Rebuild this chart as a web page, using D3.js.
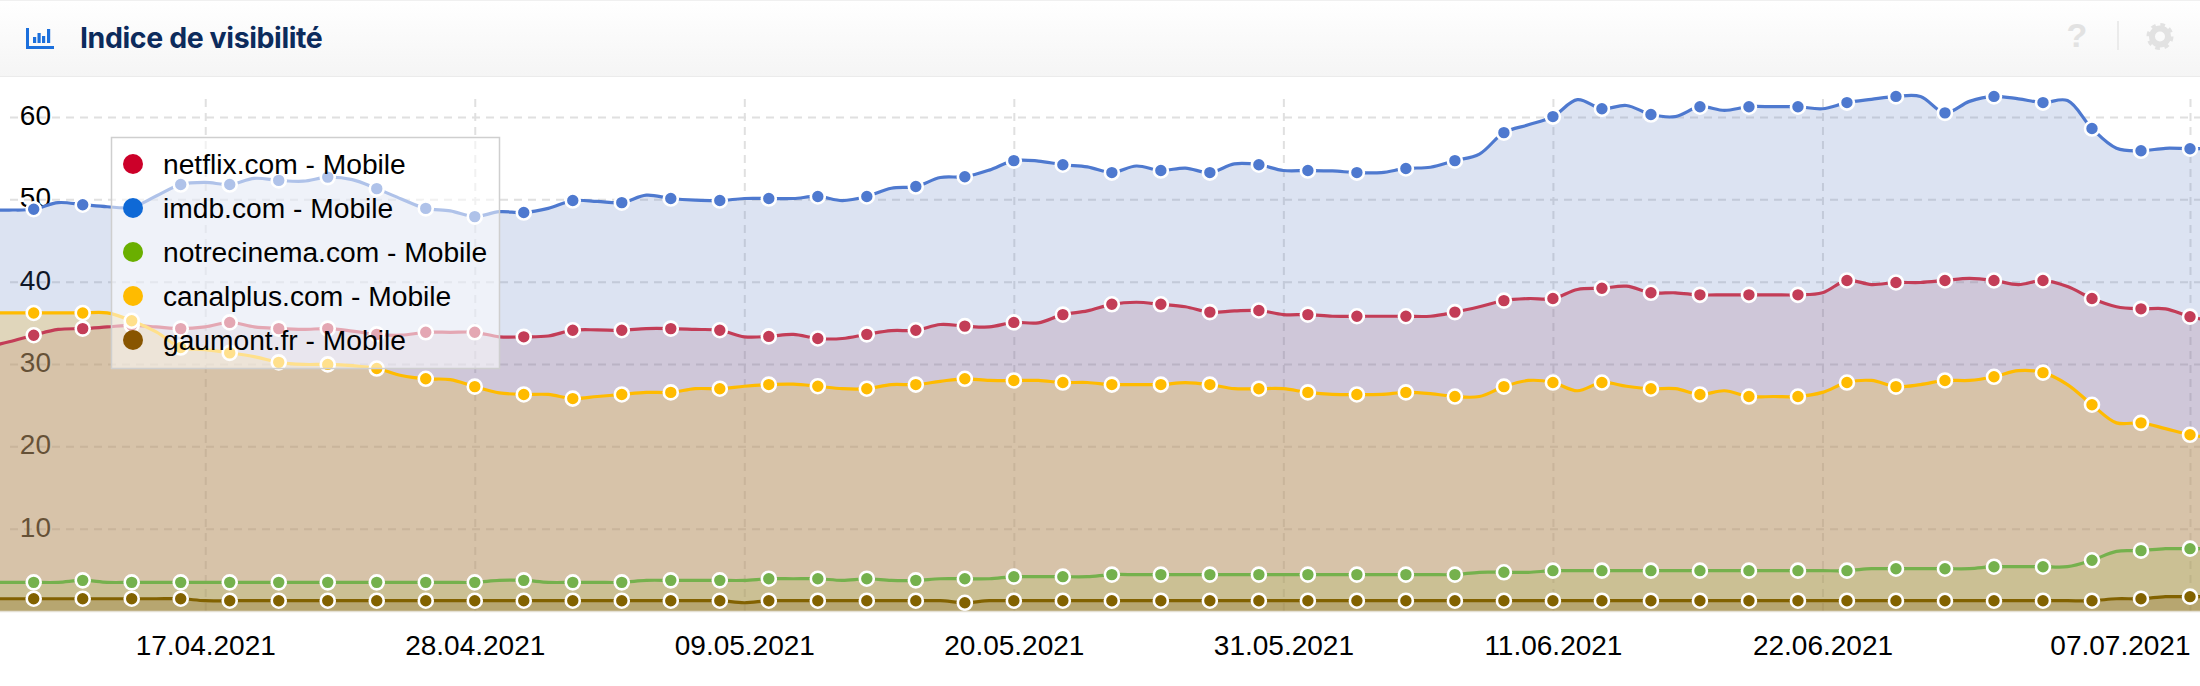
<!DOCTYPE html>
<html>
<head>
<meta charset="utf-8">
<script src="https://cdn.jsdelivr.net/npm/d3@7"></script>
<style>
	html, body { margin: 0; padding: 0; background: #fff; }
	svg { display: block; }
	text { font-family: "Liberation Sans", Arial, sans-serif; }
</style>
</head>
<body>
<script>
// Daily values, first one is 08.04.2021, last one 08.07.2021 (both just outside the plot)
const imdb = [48.7,48.7,48.8,49.6,49.35,49.1,49.05,50.4,51.8,52.05,51.8,52.55,52.3,52.2,52.7,52.4,51.3,50.05,48.9,48.6,47.9,48.5,48.4,48.9,49.85,49.75,49.6,50.5,50.1,49.9,49.85,50.1,50.1,50.1,50.35,49.85,50.35,51.35,51.55,52.65,52.75,53.55,54.7,54.65,54.2,53.95,53.25,54.05,53.5,53.8,53.25,54.3,54.2,53.5,53.5,53.45,53.25,53.25,53.75,53.9,54.7,55.5,58.1,59.05,60.05,62.1,61.0,61.4,60.3,60.05,61.25,60.8,61.25,61.25,61.25,61.0,61.75,62.15,62.5,62.5,60.5,61.9,62.5,62.2,61.75,62.0,58.6,56.2,55.9,56.2,56.15,56.2];
const netflix = [32.0,32.7,33.5,34.2,34.3,34.5,34.7,34.5,34.3,34.5,35.05,34.5,34.3,34.2,34.3,34.0,33.6,33.5,33.85,33.85,33.85,33.3,33.3,33.4,34.1,34.15,34.1,34.3,34.3,34.2,34.1,33.3,33.35,33.6,33.1,33.1,33.6,34.05,34.1,34.8,34.6,34.5,35.05,35.0,36.0,36.45,37.25,37.5,37.25,36.95,36.3,36.45,36.5,36.0,36.0,35.8,35.8,35.8,35.8,35.8,36.3,36.95,37.7,37.95,37.95,39.05,39.2,39.45,38.65,38.65,38.4,38.4,38.4,38.4,38.4,38.65,40.15,39.65,39.9,39.9,40.15,40.4,40.15,39.65,40.15,39.4,37.95,36.95,36.7,36.7,35.75,35.2];
const canalplus = [36.2,36.2,36.2,36.2,36.2,36.2,35.25,33.9,32.0,31.75,31.35,30.9,30.2,29.95,29.95,29.8,29.45,28.6,28.2,28.1,27.25,26.5,26.3,26.3,25.8,26.05,26.3,26.55,26.55,27.0,27.0,27.3,27.5,27.55,27.3,27.0,27.0,27.5,27.5,27.9,28.2,28.0,28.0,28.0,27.75,27.75,27.5,27.5,27.5,27.75,27.5,27.0,27.0,27.0,26.55,26.3,26.3,26.3,26.55,26.4,26.05,26.05,27.25,28.0,27.75,26.75,27.75,27.3,27.0,27.0,26.3,26.75,26.05,26.05,26.05,26.55,27.75,28.0,27.25,27.5,28.0,28.0,28.45,29.2,28.95,27.5,25.05,22.85,22.85,22.15,21.4,21.0];
const notrecinema = [3.48,3.48,3.48,3.48,3.72,3.48,3.48,3.48,3.48,3.48,3.48,3.48,3.48,3.48,3.48,3.48,3.48,3.48,3.48,3.48,3.48,3.72,3.72,3.48,3.48,3.48,3.48,3.72,3.72,3.72,3.72,3.72,3.92,3.92,3.92,3.72,3.92,3.72,3.72,3.92,3.92,3.92,4.17,4.17,4.17,4.17,4.42,4.42,4.42,4.42,4.42,4.42,4.42,4.42,4.42,4.42,4.42,4.42,4.42,4.42,4.42,4.7,4.7,4.7,4.9,4.9,4.9,4.9,4.9,4.9,4.9,4.9,4.9,4.9,4.9,4.9,4.9,5.14,5.14,5.14,5.14,5.14,5.38,5.38,5.38,5.38,6.16,7.25,7.33,7.57,7.57,7.57];
const gaumont = [1.49,1.49,1.49,1.49,1.49,1.49,1.49,1.49,1.49,1.25,1.25,1.25,1.25,1.25,1.25,1.25,1.25,1.25,1.25,1.25,1.25,1.25,1.25,1.25,1.25,1.25,1.25,1.25,1.25,1.25,1.25,1.0,1.25,1.25,1.25,1.25,1.25,1.25,1.25,1.25,1.0,1.25,1.25,1.25,1.25,1.25,1.25,1.25,1.25,1.25,1.25,1.25,1.25,1.25,1.25,1.25,1.25,1.25,1.25,1.25,1.25,1.25,1.25,1.25,1.25,1.25,1.25,1.25,1.25,1.25,1.25,1.25,1.25,1.25,1.25,1.25,1.25,1.25,1.25,1.25,1.25,1.25,1.25,1.25,1.25,1.25,1.25,1.49,1.49,1.74,1.74,1.74];

const yTicks = [10, 20, 30, 40, 50, 60];
const xTickLabels = ["17.04.2021", "28.04.2021", "09.05.2021", "20.05.2021", "31.05.2021", "11.06.2021", "22.06.2021", "07.07.2021"];

const legendNames = ["netflix.com - Mobile", "imdb.com - Mobile", "notrecinema.com - Mobile", "canalplus.com - Mobile", "gaumont.fr - Mobile"];
const legendColors = ["#cc0029", "#0f69d6", "#6aaf00", "#ffbb00", "#885500"];

// back to front, biggest series first
const series = [
	{ values: imdb, line: "#4e79cf", area: "rgba(80,115,190,0.2)" },
	{ values: netflix, line: "#c33d57", area: "rgba(155,92,122,0.2)" },
	{ values: canalplus, line: "#ffbb00", area: "rgba(234,187,61,0.3)" },
	{ values: notrecinema, line: "#75b14d", area: "rgba(155,181,66,0.2)" },
	{ values: gaumont, line: "#826200", area: "rgba(140,106,30,0.3)" }
];

const width = 2200, height = 686;
const parseDate = d3.timeParse("%d.%m.%Y");
const dates = d3.timeDay.range(new Date(2021, 3, 8), new Date(2021, 6, 9));

const x = d3.scaleTime().domain([new Date(2021, 3, 10), new Date(2021, 6, 7)]).range([33.7, 2190]);
const y = d3.scaleLinear().domain([0, 60]).range([611, 117]);

const svg = d3.select("body").append("svg")
	.attr("width", width)
	.attr("height", height);

// header
const defs = svg.append("defs");
const grad = defs.append("linearGradient").attr("id", "head").attr("x1", 0).attr("x2", 0).attr("y1", 0).attr("y2", 1);
grad.append("stop").attr("offset", "0%").attr("stop-color", "#ffffff");
grad.append("stop").attr("offset", "100%").attr("stop-color", "#f5f5f5");
defs.append("clipPath").attr("id", "plot").append("rect")
	.attr("x", 0).attr("y", 76).attr("width", width).attr("height", 535);

svg.append("rect").attr("x", 0).attr("y", 0).attr("width", width).attr("height", 76).attr("fill", "url(#head)");
svg.append("line").attr("x1", 0).attr("x2", width).attr("y1", 76.5).attr("y2", 76.5).attr("stroke", "#ebebeb");
svg.append("line").attr("x1", 0).attr("x2", width).attr("y1", 0.5).attr("y2", 0.5).attr("stroke", "#f0f0f0");

svg.append("text").text("Indice de visibilité")
	.attr("x", 80).attr("y", 48)
	.style("font-family", "Inter, sans-serif")
	.style("font-size", "28.5px").style("font-weight", 700)
	.style("letter-spacing", "-0.4px")
	.attr("fill", "#0c2b5c");

// bar chart icon
const icon = svg.append("g").attr("fill", "#1b6fdc");
icon.append("rect").attr("x", 26).attr("y", 28).attr("width", 3).attr("height", 21);
icon.append("rect").attr("x", 26).attr("y", 46).attr("width", 28).attr("height", 3);
[[33, 37, 6], [37.5, 33, 10], [42, 36, 7], [47, 29, 14]].forEach(b => {
	icon.append("rect").attr("x", b[0]).attr("y", b[1]).attr("width", 3.2).attr("height", b[2]);
});

// help + settings, greyed out
svg.append("text").text("?")
	.attr("x", 2077).attr("y", 47).attr("text-anchor", "middle")
	.style("font-size", "34px").style("font-weight", 700)
	.attr("fill", "#e2e2e2");
svg.append("line").attr("x1", 2118).attr("x2", 2118).attr("y1", 21).attr("y2", 50).attr("stroke", "#e6e6e6").attr("stroke-width", 1.5);
svg.append("circle").attr("cx", 2160).attr("cy", 36.5).attr("r", 8).attr("fill", "none").attr("stroke", "#e2e2e2").attr("stroke-width", 6);
svg.append("circle").attr("cx", 2160).attr("cy", 36.5).attr("r", 11.5).attr("fill", "none").attr("stroke", "#e2e2e2").attr("stroke-width", 4)
	.attr("stroke-dasharray", "4.5 4.53");

// axes, gridlines included. They sit under the areas so the fills tint them
const xAxis = d3.axisBottom(x)
	.tickValues(xTickLabels.map(parseDate))
	.tickFormat(d3.timeFormat("%d.%m.%Y"))
	.tickSize(-(611 - 97));
const gx = svg.append("g").attr("transform", "translate(0,611)").call(xAxis);
gx.select(".domain").remove();
gx.selectAll("line").attr("stroke", "#e0e0e0").attr("stroke-width", 2).attr("stroke-dasharray", "8 6");
gx.selectAll("text")
	.style("font-size", "28px").attr("fill", "#000")
	.attr("y", 24).attr("dy", "0.71em");
gx.selectAll(".tick").filter((d, i) => i === xTickLabels.length - 1).select("text")
	.attr("text-anchor", "end");

const yAxis = d3.axisLeft(y)
	.tickValues(yTicks)
	.tickSize(-(width - 10));
const gy = svg.append("g").attr("transform", "translate(10,0)").call(yAxis);
gy.select(".domain").remove();
gy.selectAll("line").attr("stroke", "#e0e0e0").attr("stroke-width", 2).attr("stroke-dasharray", "8 6");
gy.selectAll("text")
	.style("font-size", "28px").attr("fill", "#000")
	.attr("text-anchor", "end").attr("x", 41).attr("dy", "0.27em");

// series
const plot = svg.append("g").attr("clip-path", "url(#plot)");
const area = d3.area()
	.x((d, i) => x(dates[i]))
	.y0(y(0))
	.y1(d => y(d))
	.curve(d3.curveCatmullRom.alpha(0.5));
const line = area.lineY1();

series.forEach(s => {
	plot.append("path").datum(s.values).attr("d", area).attr("fill", s.area);
});
series.forEach(s => {
	plot.append("path").datum(s.values).attr("d", line)
		.attr("fill", "none").attr("stroke", s.line).attr("stroke-width", 3.2);
});
series.forEach(s => {
	// only every second day gets a dot
	plot.selectAll(null)
		.data(s.values.map((v, i) => [dates[i], v]).filter((d, i) => i % 2 === 0))
		.join("circle")
		.attr("cx", d => x(d[0]))
		.attr("cy", d => y(d[1]))
		.attr("r", 7)
		.attr("fill", s.line)
		.attr("stroke", "#fff")
		.attr("stroke-width", 2.6);
});

svg.append("line").attr("x1", 0).attr("x2", width).attr("y1", 611.5).attr("y2", 611.5).attr("stroke", "#e4e0d4").attr("stroke-width", 1.5);

// legend
const legend = svg.append("g");
legend.append("rect")
	.attr("x", 111.5).attr("y", 137.5).attr("width", 388).attr("height", 231)
	.attr("fill", "rgba(255,255,255,0.55)").attr("stroke", "#cfcfcf").attr("stroke-width", 1.5);
const rowY = d3.scalePoint().domain(legendNames).range([164, 340]);
legendNames.forEach((name, i) => {
	legend.append("circle").attr("cx", 133).attr("cy", rowY(name)).attr("r", 10).attr("fill", legendColors[i]);
	legend.append("text").text(name)
		.attr("x", 163).attr("y", rowY(name)).attr("dy", "0.36em")
		.style("font-size", "28.2px").attr("fill", "#000");
});
</script>
</body>
</html>
